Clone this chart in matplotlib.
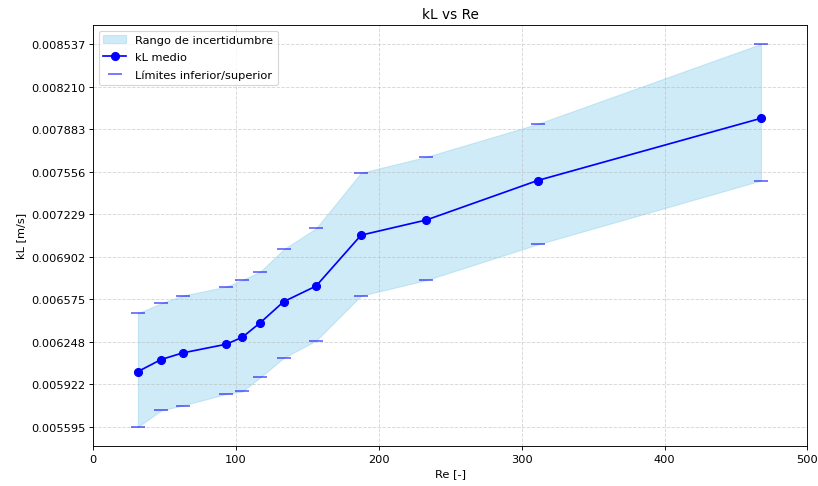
import numpy as np
import matplotlib.pyplot as plt
from matplotlib.ticker import FormatStrFormatter

# Reynolds number and mass transfer coefficient (mean, lower, upper) in m/s
Re = [31.3, 47.4, 62.5, 93.1, 104.3, 117.0, 133.3, 156.0, 187.5, 233.3, 311.1, 467.5]
kL_mean = [0.006020, 0.006112, 0.006163, 0.006230, 0.006283, 0.006396,
           0.006557, 0.006677, 0.007068, 0.007185, 0.007488, 0.007966]
kL_low = [0.0055946, 0.005721, 0.005759, 0.005848, 0.005867, 0.005976,
          0.006125, 0.006258, 0.006603, 0.006723, 0.006997, 0.007488]
kL_high = [0.006468, 0.006544, 0.006603, 0.006672, 0.006723, 0.006788,
           0.006959, 0.007120, 0.007547, 0.007670, 0.007923, 0.008537]

fig, ax = plt.subplots(figsize=(10, 5.953), dpi=81.8)
fig.subplots_adjust(left=0.114, right=0.987, top=0.947, bottom=0.082)

ax.fill_between(Re, kL_low, kL_high, color='skyblue', alpha=0.4,
                label='Rango de incertidumbre')
ax.plot(Re, kL_mean, 'o-', color='blue', markersize=7, label='kL medio')
ax.plot(Re, kL_low, '_', color='blue', alpha=0.6, markersize=12, mew=1.5,
        label='Límites inferior/superior')
ax.plot(Re, kL_high, '_', color='blue', alpha=0.6, markersize=12, mew=1.5)

yt = np.linspace(min(kL_low), max(kL_high), 10)
ax.set_yticks(yt)
ax.yaxis.set_major_formatter(FormatStrFormatter('%.6f'))
ax.set_xlim(0, 500)

ax.set_xlabel('Re [-]')
ax.set_ylabel('kL [m/s]')
ax.set_title('kL vs Re')
ax.grid(True, linestyle='--', alpha=0.5)
ax.legend(loc='upper left', labelspacing=0.65)

fig.savefig('out.png')
